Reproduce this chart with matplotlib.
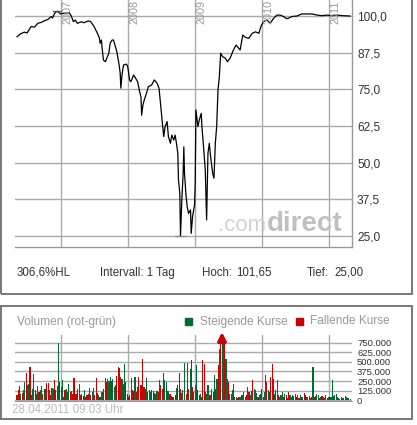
import numpy as np
import matplotlib
matplotlib.use("Agg")
import matplotlib.pyplot as plt
from matplotlib.patches import Rectangle

plt.rcParams['font.family'] = ['Liberation Sans', 'DejaVu Sans']

# price index (fractional year, value)
price_t = [2006.34, 2006.39, 2006.45, 2006.49, 2006.55, 2006.60, 2006.65, 2006.70, 2006.75, 2006.80,
           2006.85, 2006.87, 2006.90, 2006.94, 2006.99, 2007.04, 2007.12, 2007.15, 2007.18, 2007.21,
           2007.24, 2007.30, 2007.34, 2007.40, 2007.44, 2007.49, 2007.54, 2007.57, 2007.58, 2007.60,
           2007.61, 2007.63, 2007.66, 2007.68, 2007.71, 2007.73, 2007.76, 2007.78, 2007.81, 2007.83,
           2007.86, 2007.88, 2007.89, 2007.91, 2007.93, 2007.97, 2007.99, 2008.00, 2008.02, 2008.04,
           2008.08, 2008.11, 2008.14, 2008.17, 2008.19, 2008.20, 2008.22, 2008.24, 2008.28, 2008.30,
           2008.35, 2008.39, 2008.43, 2008.46, 2008.49, 2008.51, 2008.53, 2008.55, 2008.58, 2008.60,
           2008.63, 2008.65, 2008.68, 2008.70, 2008.72, 2008.74, 2008.75, 2008.77, 2008.78, 2008.80,
           2008.82, 2008.83, 2008.84, 2008.86, 2008.88, 2008.90, 2008.93, 2008.94, 2008.96, 2008.99,
           2009.00, 2009.01, 2009.04, 2009.06, 2009.09, 2009.10, 2009.12, 2009.15, 2009.17, 2009.19,
           2009.21, 2009.23, 2009.26, 2009.28, 2009.30, 2009.32, 2009.34, 2009.36, 2009.38, 2009.41,
           2009.45, 2009.48, 2009.52, 2009.55, 2009.57, 2009.61, 2009.65, 2009.67, 2009.71, 2009.75,
           2009.80, 2009.85, 2009.90, 2009.95, 2009.98, 2010.02, 2010.07, 2010.12, 2010.17, 2010.22,
           2010.27, 2010.32, 2010.36, 2010.39, 2010.44, 2010.52, 2010.59, 2010.67, 2010.74, 2010.82,
           2010.89, 2010.97, 2011.04, 2011.11, 2011.21, 2011.31]
price_v = [92.9, 93.9, 94.5, 94.2, 96.4, 96.2, 97.5, 97.8, 98.4, 98.8,
           99.8, 99.3, 100.9, 101.65, 100.7, 100.9, 101.1, 100.0, 98.1, 98.6,
           97.5, 98.0, 97.7, 98.3, 98.1, 96.4, 94.1, 92.5, 90.7, 91.8,
           89.1, 85.0, 84.4, 85.6, 87.3, 90.7, 91.8, 91.8, 89.5, 87.8,
           83.9, 80.5, 75.4, 80.5, 83.3, 83.6, 83.0, 81.6, 78.2, 77.6,
           79.9, 78.8, 77.6, 74.2, 72.5, 66.2, 69.7, 71.4, 74.2, 75.9,
           76.5, 78.2, 77.1, 75.4, 68.0, 63.4, 58.9, 62.3, 64.0, 58.9,
           56.6, 59.4, 57.7, 59.4, 56.6, 53.2, 44.1, 39.6, 25.0, 37.3,
           46.4, 55.4, 46.4, 39.6, 35.0, 32.7, 33.9, 25.9, 31.6, 35.6,
           43.0, 68.0, 62.3, 64.5, 66.8, 62.3, 56.6, 47.5, 30.5, 53.2,
           56.6, 52.0, 46.4, 44.7, 56.6, 62.3, 74.8, 79.3, 87.3, 86.1,
           85.6, 84.4, 85.6, 87.3, 88.4, 90.1, 89.0, 88.4, 93.5, 92.7,
           92.4, 94.1, 94.6, 94.1, 96.4, 98.1, 98.6, 97.5, 99.2, 100.3,
           100.3, 99.8, 99.1, 99.2, 99.8, 100.0, 100.7, 100.7, 100.7, 100.3,
           100.1, 100.3, 100.1, 100.3, 100.1, 100.0]

hoch, hoch_t = 101.65, 2006.94
tief, tief_t = 25.00, 2008.78

# volume in thousands, first part (mid 2006 - late 2008) and second part (late 2008 - 2011)
vol_a = [61, 127, 184, 83, 96, 127, 237, 355, 193, 215,
         439, 61, 149, 342, 127, 83, 184, 105, 127, 184,
         83, 140, 149, 228, 228, 127, 61, 158, 140, 259,
         127, 184, 754, 237, 171, 259, 39, 127, 140, 105,
         215, 105, 114, 83, 289, 83, 83, 149, 215, 61,
         83, 53, 127, 39, 70, 83, 158, 61, 105, 158,
         61, 289, 96, 61, 39, 105, 105, 140, 289, 237,
         281, 246, 303, 246, 281, 171, 193, 316, 434, 421,
         303, 281, 215, 474, 237, 83, 39, 61, 289, 127,
         114, 303, 105, 171, 303, 202, 193, 535, 171, 149,
         289, 105, 127, 105, 127, 114, 96, 83, 114, 105,
         259, 193, 149, 355, 259, 237, 114, 114, 83, 53,
         39, 39, 61, 158, 202, 355, 149, 96, 127, 487]
col_a = ("rrrgrggrrg" "rrggrggrgg" "rgrrrgrggr" "rrgrggrrgr"
         "grgrrrrrgr" "rrgrrrgrgg" "rrrgrggrrr" "gggrggrrrr"
         "rgrgrrrrgr" "rgrgrrrrrg" "grggrrgrgr" "grrrggrgrr" "rgrgrrrggg")
vol_b = [83, 491, 149, 412, 522, 171, 105, 193, 456, 127,
         61, 83, 39, 522, 478, 105, 83, 193, 61, 70,
         149, 105, 333, 149, 281, 456, 667, 950, 900, 763,
         785, 544, 281, 237, 83, 83, 127, 215, 39, 39,
         26, 39, 39, 61, 61, 105, 39, 61, 171, 105,
         70, 114, 268, 140, 127, 96, 39, 61, 83, 149,
         39, 105, 325, 237, 127, 105, 303, 474, 281, 83,
         127, 259, 61, 39, 70, 105, 39, 83, 61, 26,
         105, 70, 39, 61, 53, 83, 39, 70, 26, 61,
         39, 39, 96, 61, 39, 39, 53, 26, 39, 434,
         39, 53, 83, 61, 26, 39, 53, 39, 26, 61,
         26, 39, 39, 39, 259, 53, 61, 83, 39, 26,
         18, 39, 26, 26, 53, 39, 26, 26, 18]
col_b = ("rgrgrrgggr" "rgrrrrggrr" "grgrgrgrgg" "rggrggggrg"
         "rrgrgggrgr" "ggrgggrggg" "rggrgrrrrg" "rgrgggrgrg"
         "rgrgrgrgrg" "rgrrgrgrgg" "rgggrgrgrg" "rgrggrggrg" "rggrggrgg")

years = [2007, 2008, 2009, 2010, 2011]
price_ticks = [25, 37.5, 50, 62.5, 75, 87.5, 100]
vol_ticks = [0, 125, 250, 375, 500, 625, 750]

GREEN = '#006b33'
RED = '#cc0000'
GRID = '#aaaaaa'

W, H = 417, 425
fig = plt.figure(figsize=(W / 100, H / 100), dpi=100)


def fx(px):
    return px / W


def fy(py):
    return 1 - py / H


xlim = (2006.31, 2011.34)

# ---- price panel
ax = fig.add_axes([fx(15), fy(247), fx(352) - fx(15), fy(0) - fy(247)])
ax.plot(price_t, price_v, color='black', lw=0.9, zorder=3)
ax.plot([hoch_t - 0.07, hoch_t + 0.05], [hoch, hoch], color='#555555', lw=0.9, zorder=3)
ax.plot([tief_t - 0.08, tief_t + 0.08], [tief, tief], color='#888888', lw=0.9, zorder=3)
ax.set_xlim(*xlim)
ax.set_ylim(21.25, 105.45)
ax.set_xticks(years)
ax.set_yticks(price_ticks)
ax.set_yticklabels([f"{v:.1f}".replace('.', ',') for v in price_ticks])
ax.yaxis.tick_right()
ax.tick_params(axis='x', length=0, labelbottom=False)
ax.tick_params(axis='y', length=0, pad=3.6, labelsize=8.6, labelcolor='#333333')
ax.grid(color=GRID, lw=1.0)
ax.set_axisbelow(True)
for s in ['left', 'top']:
    ax.spines[s].set_visible(False)
for s in ['right', 'bottom']:
    ax.spines[s].set_color('#999999')
    ax.spines[s].set_linewidth(1.0)
for yr in years:
    ax.text(yr + 0.012, 105.45, str(yr), rotation=90, ha='left', va='top',
            color='#999999', fontsize=7.8)

# watermark
fig.text(fx(266), fy(231), '.com', ha='right', va='baseline', fontsize=16,
         color='#d2d2d2')
fig.text(fx(267), fy(231), 'direct', ha='left', va='baseline', fontsize=20,
         color='#c0c0c0', fontweight='bold')

# info row
info_y = fy(272.7)
for x, s in [(17, '306,6%HL'), (100, 'Intervall: 1 Tag'), (202, 'Hoch:'),
             (236, '101,65'), (307, 'Tief:'), (334, '25,00')]:
    fig.text(fx(x), info_y, s, ha='left', va='center', fontsize=8.3, color='#333333')

# ---- volume panel
vax = fig.add_axes([fx(15), fy(401), fx(352) - fx(15), fy(335) - fy(401)])
t_a = np.linspace(2006.34, 2008.836, len(vol_a))
t_b = np.linspace(2008.866, 2011.313, len(vol_b))
vt = np.concatenate([t_a, t_b])
vv = np.array(vol_a + vol_b, dtype=float)
vc = [GREEN if c == 'g' else RED for c in col_a + col_b]
bw = (t_a[1] - t_a[0]) * 0.85
vax.bar(vt, vv, width=bw, color=vc, linewidth=0, zorder=3)
vmax = 855
vax.set_xlim(*xlim)
vax.set_ylim(-13, vmax)
# clipped bars get a red arrow
for t, v in zip(vt, vv):
    if v > vmax:
        vax.plot(t, vmax - 45, marker='^', ms=5.5, color=RED, clip_on=False, zorder=4)
        vax.plot([t - 0.03, t + 0.03], [vmax - 90, vmax - 90], color=RED, lw=2.2,
                 clip_on=False, zorder=4)
vax.set_xticks(years)
vax.set_yticks(vol_ticks)
vax.set_yticklabels(['0' if v == 0 else f"{v}.000" for v in vol_ticks])
vax.yaxis.tick_right()
vax.tick_params(axis='x', length=0, labelbottom=False)
vax.tick_params(axis='y', length=0, pad=3.6, labelsize=6.8, labelcolor='#333333')
vax.grid(color=GRID, lw=1.0)
vax.set_axisbelow(True)
for s in ['left', 'top', 'right']:
    vax.spines[s].set_visible(False)
vax.spines['bottom'].set_color('#999999')

fig.text(fx(17), fy(321.5), 'Volumen (rot-grün)', ha='left', va='center',
         fontsize=8.6, color='#999999')
fig.patches.append(Rectangle((fx(185), fy(325)), fx(7), fx(7) * W / H,
                             transform=fig.transFigure, color=GREEN))
fig.text(fx(200), fy(321.5), 'Steigende Kurse', ha='left', va='center',
         fontsize=8.6, color='#999999')
fig.patches.append(Rectangle((fx(296), fy(325)), fx(7), fx(7) * W / H,
                             transform=fig.transFigure, color=RED))
fig.text(fx(310), fy(321.5), 'Fallende Kurse', ha='left', va='center',
         fontsize=8.6, color='#999999')
fig.text(fx(12), fy(410), '28.04.2011 09:03 Uhr', ha='left', va='center',
         fontsize=8.4, color='#bbbbbb')

# outer frames
fig.patches.append(Rectangle((fx(1), fy(294)), fx(411), fy(-5) - fy(294),
                             transform=fig.transFigure, fill=False,
                             edgecolor='#777777', lw=1.4))
fig.patches.append(Rectangle((fx(1), fy(419)), fx(411), fy(306) - fy(419),
                             transform=fig.transFigure, fill=False,
                             edgecolor='#777777', lw=1.4))

fig.savefig('out.png', dpi=100)
